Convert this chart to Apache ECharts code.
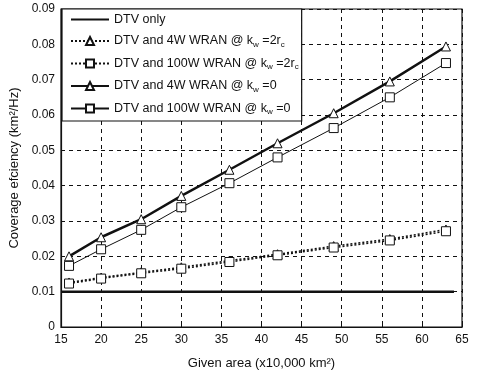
<!DOCTYPE html>
<html><head><meta charset="utf-8">
<script src="https://cdn.jsdelivr.net/npm/echarts@6/dist/echarts.min.js"></script>
<style>html,body{margin:0;padding:0;background:#fff}#c{width:479px;height:371px}</style>
</head><body><div id="c"></div>
<script>
var areas = [16, 20, 25, 30, 36, 42, 49, 56, 63];
var dtvAreas = [15, 64];
var dtvOnly = [0.01, 0.01];
var w4_2rc = [0.0126, 0.0140, 0.0155, 0.0169, 0.0188, 0.0206, 0.0229, 0.0249, 0.0276];
var w100_2rc = [0.0123, 0.0137, 0.0152, 0.0165, 0.0184, 0.0203, 0.0225, 0.0245, 0.0271];
var w4_0 = [0.0200, 0.0254, 0.0305, 0.0371, 0.0445, 0.0520, 0.0605, 0.0695, 0.0794];
var w100_0 = [0.0173, 0.0220, 0.0275, 0.0339, 0.0407, 0.0480, 0.0563, 0.0650, 0.0747];
var names = ['DTV only', 'DTV and 4W WRAN @ k_w =2r_c', 'DTV and 100W WRAN @ k_w =2r_c', 'DTV and 4W WRAN @ k_w =0', 'DTV and 100W WRAN @ k_w =0'];
var xTicks = [15, 20, 25, 30, 35, 40, 45, 50, 55, 60, 65];
var yTicks = [0, 0.01, 0.02, 0.03, 0.04, 0.05, 0.06, 0.07, 0.08, 0.09];

function pts(xs, arr){ return xs.map(function(x,i){ return [x, arr[i]]; }); }
var F = 'Liberation Sans, Arial, sans-serif';
function mk(name, data, style, xs){
  return Object.assign({
    name: name, type: 'line', data: pts(xs || areas, data), silent: true, animation: false,
    symbolSize: 9, itemStyle: {color: '#fff', borderColor: '#111', borderWidth: 1},
    lineStyle: {color: '#111', width: 1}
  }, style);
}
var chart = echarts.init(document.getElementById('c'));
chart.setOption({
  backgroundColor: '#fff',
  animation: false,
  grid: {left: 61, right: 17, top: 9, bottom: 44, show: true, borderColor: '#111', borderWidth: 1.2,
    containLabel: false, outerBoundsMode: 'none'},
  legend: {
    left: 62, top: 9, orient: 'vertical', itemGap: 8.5, itemWidth: 38, itemHeight: 10,
    padding: [4, 3, 5, 8], backgroundColor: '#fff', borderColor: '#111', borderWidth: 1.2,
    data: [{name: names[0], itemStyle: {opacity: 0}}, names[1], names[2], names[3], names[4]],
    textStyle: {fontFamily: F, fontSize: 12.5, color: '#111',
      rich: {n: {fontFamily: F, fontSize: 12.5, color: '#111'}, s: {fontFamily: F, fontSize: 8, color: '#111', padding: [7, 0, 0, 0]}}},
    formatter: function(n){
      return '{n|' + n.replace(/_(\w)/g, '}{s|$1}{n|') + '}';
    }
  },
  xAxis: {
    type: 'value', min: 15, max: 65, interval: 5,
    name: 'Given area (x10,000 km²)', nameLocation: 'middle', nameGap: 30,
    nameTextStyle: {fontFamily: F, fontSize: 13, color: '#111'},
    axisLine: {lineStyle: {color: '#111', width: 1.2}},
    axisTick: {inside: true, length: 4, lineStyle: {color: '#111'}},
    axisLabel: {fontFamily: F, fontSize: 12, color: '#111', margin: 7,
      formatter: function(v){ return xTicks.indexOf(v) >= 0 ? String(v) : ''; }},
    splitLine: {show: true, lineStyle: {color: '#111', type: [4, 4], width: 1}}
  },
  yAxis: {
    type: 'value', min: 0, max: 0.09, interval: 0.01,
    name: 'Coverage efciency (km²/Hz)', nameLocation: 'middle', nameGap: 40,
    nameTextStyle: {fontFamily: F, fontSize: 13, color: '#111'},
    axisLine: {lineStyle: {color: '#111', width: 1.2}},
    axisTick: {inside: true, length: 4, lineStyle: {color: '#111'}},
    axisLabel: {fontFamily: F, fontSize: 12, color: '#111', margin: 6,
      formatter: function(v){ var i = yTicks.findIndex(function(t){return Math.abs(t-v)<1e-9;}); return i === 0 ? '0' : (i > 0 ? yTicks[i].toFixed(2) : ''); }},
    splitLine: {show: true, lineStyle: {color: '#111', type: [4, 4], width: 1}}
  },
  series: [
    mk(names[0], dtvOnly, {symbol: 'none', lineStyle: {color: '#111', width: 2.5}}, dtvAreas),
    mk(names[1], w4_2rc, {symbol: 'triangle', lineStyle: {color: '#111', width: 1.5, type: [2, 2]}}),
    mk(names[2], w100_2rc, {symbol: 'rect', lineStyle: {color: '#111', width: 1.5, type: [2, 2]}}),
    mk(names[3], w4_0, {symbol: 'triangle', lineStyle: {color: '#111', width: 2.5}}),
    mk(names[4], w100_0, {symbol: 'rect', lineStyle: {color: '#111', width: 1}})
  ]
});
</script></body></html>
